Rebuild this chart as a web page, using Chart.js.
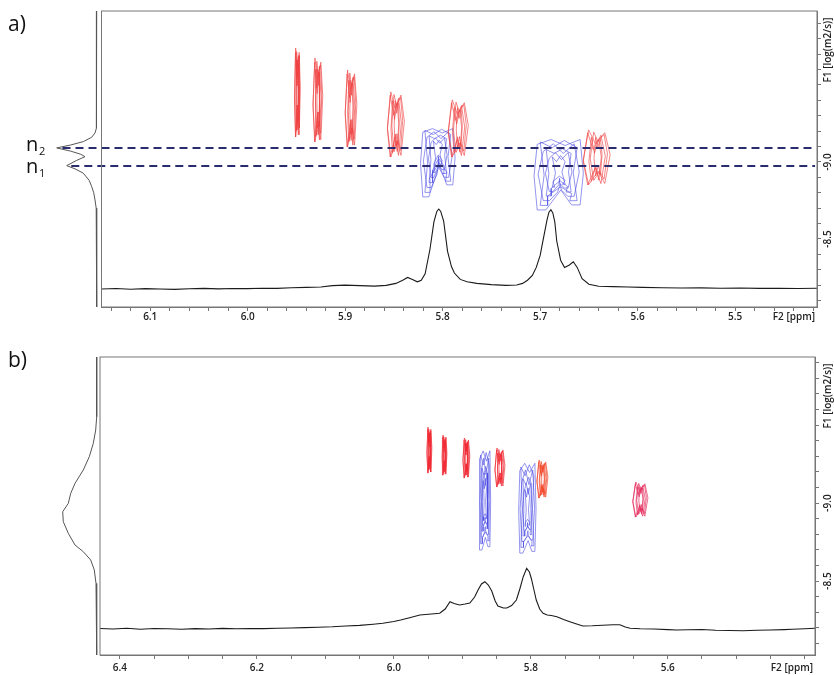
<!DOCTYPE html>
<html>
<head>
<meta charset="utf-8">
<script src="https://cdn.jsdelivr.net/npm/chart.js@4/dist/chart.umd.min.js"></script>
<style>
  body { margin: 0; background: #fff; }
  .panel { position: absolute; left: 0; }
</style>
</head>
<body>
<div class="panel" style="top:0"><canvas id="dosyA" width="834" height="330"></canvas></div>
<div class="panel" style="top:330px"><canvas id="dosyB" width="834" height="345"></canvas></div>
<script>
// ---------- panel a ----------
// 1H trace: [ppm, intensity]
const traceA = [
  [6.150, 0], [6.135, 0.6], [6.120, -0.3], [6.105, 0.5], [6.090, 0], [6.075, -0.5], [6.060, 0.4],
  [6.045, 0.8], [6.030, 0.2], [6.015, 0.6], [6.000, 0.5], [5.985, 1], [5.970, 0.8], [5.955, 1.5],
  [5.940, 2], [5.925, 2.5], [5.913, 4.2], [5.900, 4.8], [5.885, 4.2], [5.870, 3.6], [5.858, 4.5],
  [5.848, 7], [5.841, 11], [5.836, 14.5], [5.831, 12], [5.826, 9], [5.822, 11], [5.818, 19],
  [5.813, 50], [5.809, 84], [5.806, 97], [5.804, 100], [5.802, 97], [5.799, 85], [5.795, 47],
  [5.791, 28], [5.788, 20], [5.782, 12], [5.775, 9], [5.765, 7], [5.750, 5.5], [5.735, 4.5],
  [5.724, 5], [5.718, 7], [5.713, 11], [5.708, 17], [5.704, 27], [5.700, 42], [5.697, 61],
  [5.693, 86], [5.691, 96], [5.689, 99], [5.687, 95], [5.685, 84], [5.683, 60], [5.679, 36],
  [5.675, 27], [5.670, 30], [5.666, 34], [5.662, 27], [5.657, 13], [5.650, 6], [5.640, 3.5],
  [5.625, 3], [5.610, 2.5], [5.595, 2], [5.575, 1.6], [5.555, 1.2], [5.535, 1.4], [5.515, 0.9],
  [5.495, 1.2], [5.475, 0.8], [5.455, 1], [5.435, 0.6], [5.416, 1]
];
// F1 projection: [log D, intensity]
const projA = [
  [-9.98, 0], [-9.253, 0], [-9.220, 0.5], [-9.188, 1.7], [-9.160, 5], [-9.132, 13.4], [-9.110, 26],
  [-9.091, 40], [-9.070, 26], [-9.050, 16], [-9.034, 11.7], [-9.010, 20], [-8.976, 30], [-8.955, 21.7],
  [-8.927, 13.4], [-8.880, 7.5], [-8.840, 5], [-8.800, 3], [-8.753, 1.7], [-8.700, 0.5], [-8.669, 0],
  [-8.058, 0]
];
// diffusion levels n2, n1
const levelsA = [-9.091, -8.974];
const levelNames = ['2', '1'];
// red cross peaks: centre ppm, half width, log D top / bottom
const redPpmA = [5.949, 5.928, 5.894, 5.848, 5.784, 5.642];
const redHwA  = [0.003, 0.005, 0.006, 0.0087, 0.0103, 0.0138];
const redTopA = [-9.740, -9.675, -9.597, -9.455, -9.403, -9.208];
const redBotA = [-9.162, -9.130, -9.097, -9.032, -9.032, -8.851];
// blue cross peaks: centre ppm, half width, top, left leg end, right leg end, notch
const bluePpmA  = [5.805, 5.681];
const blueHwA   = [0.0154, 0.022];
const blueTopA  = [-9.205, -9.130];
const blueBotLA = [-8.773, -8.688];
const blueBotRA = [-8.851, -8.721];
const blueMidA  = [-8.980, -8.818];
const xLabelsA = [6.1, 6.0, 5.9, 5.8, 5.7, 5.6, 5.5];

// ---------- panel b ----------
const traceB = [
  [6.429, 0.5], [6.41, 0], [6.39, 0.8], [6.37, -0.2], [6.35, 0.5], [6.33, 0.2], [6.31, -0.3],
  [6.29, 0.4], [6.27, 0], [6.25, 0.6], [6.23, 0.2], [6.21, 0.5], [6.19, 0.4], [6.17, 0.8],
  [6.15, 1], [6.13, 1.4], [6.11, 1.8], [6.09, 2.2], [6.07, 3], [6.05, 3.6], [6.03, 4.8],
  [6.016, 5.7], [6.00, 7.5], [5.99, 9], [5.977, 11.3], [5.962, 14], [5.945, 15], [5.933, 15.7],
  [5.925, 20], [5.918, 27.3], [5.912, 25.5], [5.904, 24], [5.896, 25], [5.889, 26], [5.882, 32],
  [5.877, 39], [5.872, 45], [5.867, 47.3], [5.862, 44], [5.857, 38], [5.852, 28], [5.848, 23],
  [5.840, 21], [5.835, 21], [5.828, 23.5], [5.821, 29], [5.816, 40], [5.811, 52.3], [5.806, 60.7],
  [5.802, 57], [5.799, 50], [5.795, 38], [5.792, 29], [5.787, 20], [5.782, 15.7], [5.776, 14],
  [5.770, 13.5], [5.762, 12.3], [5.752, 9.5], [5.743, 7.3], [5.733, 5], [5.724, 3], [5.710, 3.2],
  [5.695, 3.8], [5.680, 4.2], [5.670, 4.3], [5.662, 2], [5.655, 0.7], [5.640, 0.2], [5.620, 0],
  [5.600, -0.6], [5.587, -1], [5.570, -0.8], [5.550, -0.5], [5.530, -1.2], [5.510, -1.5],
  [5.490, -1.7], [5.470, -1.2], [5.450, -1], [5.430, -0.6], [5.418, -0.3], [5.400, 0.3], [5.385, 0.7]
];
const projB = [
  [-9.936, 0], [-9.553, 0], [-9.468, 1], [-9.383, 3.4], [-9.297, 7.4], [-9.212, 13.4], [-9.126, 21.7],
  [-9.062, 26], [-8.998, 28.4], [-8.944, 34], [-8.880, 33.4], [-8.806, 28.4], [-8.731, 21.7],
  [-8.688, 13.4], [-8.635, 6], [-8.571, 2.4], [-8.485, 0.7], [-8.399, 0], [-8.026, 0]
];
const redPpmB = [5.948, 5.926, 5.894, 5.845, 5.783, 5.640];
const redHwB  = [0.0036, 0.0036, 0.005, 0.0073, 0.008, 0.011];
const redTopB = [-9.487, -9.436, -9.417, -9.353, -9.276, -9.135];
const redBotB = [-9.192, -9.179, -9.160, -9.103, -9.032, -8.910];
const bluePpmB  = [5.867, 5.805];
const blueHwB   = [0.0073, 0.011];
const blueTopB  = [-9.308, -9.231];
const blueBotLB = [-8.699, -8.679];
const blueBotRB = [-8.720, -8.690];
const blueMidB  = [-8.780, -8.760];
const xLabelsB = [6.4, 6.2, 6.0, 5.8, 5.6];
const yLabels = [-9.0, -8.5];

// nested contour levels
const RED_W  = [1, 0.82, 0.64, 0.46, 0.3];
const RED_H  = [1, 0.95, 0.88, 0.8, 0.7];
const RED_P  = [0.5, 0.35, 0.62, 0.28, 0.45];
const RED_DY = [0, 0.05, -0.04, 0.07, -0.03];
const RED_DX = [0, 0.18, -0.16, 0.12, -0.1];
const BLUE_W = [1, 0.86, 0.72, 0.58, 0.44, 0.3];
const BLUE_S = [1, 0.93, 0.85, 0.76, 0.66, 0.55];
const BLUE_T = [0, 0.06, 0.12, 0.2, 0.28, 0.36];
const BLUE_Q = [0.05, -0.06, 0.08, -0.04, 0.06, -0.05];

function line(pts, color, width, xId, yId, extra) {
  return Object.assign({
    data: pts.map(([x, y]) => ({ x, y })),
    borderColor: color, borderWidth: width, pointRadius: 0,
    xAxisID: xId, yAxisID: yId
  }, extra || {});
}

// spiky bow-tie rings (ppm axis runs right to left, so cx + w is the left side)
function bowtie(cx, hw, top, bot, color) {
  const mid = (top + bot) / 2, hh = (bot - top) / 2;
  return RED_W.map((fw, k) => {
    const w = hw * fw, h = hh * RED_H[k], m = mid + hh * RED_DY[k], p = RED_P[k];
    const c = cx + hw * RED_DX[k];
    return line([
      [c + 0.6 * w, m - h], [c + 0.1 * w, m - h * p], [c - 0.6 * w, m - h * 0.9], [c - w, m - h * 0.1],
      [c - 0.6 * w, m + h * 0.95], [c - 0.1 * w, m + h * p], [c + 0.6 * w, m + h], [c + w, m + h * 0.1],
      [c + 0.6 * w, m - h]
    ], color, 0.8, 'x', 'y');
  });
}

// ragged arch shaped rings with two legs
function arch(cx, hw, top, botL, botR, mid, color) {
  return BLUE_W.map((fw, k) => {
    const w = hw * fw, s = BLUE_S[k], leg = w * 0.4;
    const t = top + (mid - top) * BLUE_T[k], q = (mid - top) * BLUE_Q[k];
    const yl = t + (botL - t) * s, yr = t + (botR - t) * s, ym = t + (mid - t) * s;
    const wob = hw * BLUE_Q[k] * 3;
    return line([
      [cx + w, yl], [cx + w + wob, (t + yl) / 2], [cx + w, t + q], [cx + w * 0.35, t - q],
      [cx - w * 0.3, t + q * 1.5], [cx - w, t - q], [cx - w - wob, (t + yr) / 2], [cx - w, yr],
      [cx - w + leg, yr], [cx - w * 0.5 + wob, (yr + ym) / 2], [cx - w * 0.1, ym],
      [cx + w * 0.4 - wob, (yl + ym) / 2], [cx + w - leg, yl], [cx + w, yl]
    ], color, 0.8, 'x', 'y');
  });
}

function onGrid(step) {
  return s => { s.ticks = s.ticks.filter(t => Math.abs(t.value / step - Math.round(t.value / step)) < 1e-6); };
}

const panelDecor = {
  id: 'panelDecor',
  afterDraw(chart, args, o) {
    const { ctx, chartArea: a, scales } = chart;
    ctx.save();
    ctx.strokeStyle = '#777';
    ctx.lineWidth = 1;
    ctx.strokeRect(a.left, a.top, a.right - a.left, a.bottom - a.top);

    ctx.fillStyle = '#111';
    ctx.font = '21px "Open Sans"';
    ctx.textAlign = 'left';
    ctx.textBaseline = 'alphabetic';
    ctx.fillText(o.letter, 8, o.letterY);

    // n labels beside the projection peaks
    (o.levels || []).forEach((lv, i) => {
      const y = scales.y.getPixelForValue(lv);
      ctx.font = '20px "Open Sans"';
      ctx.fillText('n', 26, y + o.levelDy[i]);
      ctx.font = '11px "Open Sans"';
      ctx.fillText(o.levelNames[i], 39, y + o.levelDy[i] + 4);
    });

    ctx.fillStyle = '#222';
    ctx.font = '600 10px "Open Sans"';
    ctx.textAlign = 'right';
    ctx.textBaseline = 'middle';
    ctx.fillText('F2 [ppm]', a.right - 2, o.labelY);

    // rotated F1 labels on the right
    ctx.textAlign = 'center';
    const rot = (txt, x, y) => {
      ctx.save(); ctx.translate(x, y); ctx.rotate(-Math.PI / 2); ctx.fillText(txt, 0, 0); ctx.restore();
    };
    yLabels.forEach(v => rot(v.toFixed(1), 828, scales.y.getPixelForValue(v)));
    rot('F1 [log(m2/s)]', 828, a.top + 39);
    ctx.restore();
  }
};

function makePanel(id, c) {
  const ds = [];
  (c.levels || []).forEach((lv, i) => ds.push(line([[c.dashFrom[i], lv], [c.xMin + 0.002, lv]],
    '#2a2c70', 2, 'x', 'y', { borderDash: [8, 5], clip: false })));
  ds.push(line(c.trace, '#1b1b1b', 1.1, 'x', 'yInt'));
  ds.push(line(c.proj.map(([d, p]) => [p, d]), '#555', 1, 'xProj', 'y', { clip: false }));
  c.red.ppm.forEach((cx, i) => ds.push(...bowtie(cx, c.red.hw[i], c.red.top[i], c.red.bot[i], c.red.col[i])));
  c.blue.ppm.forEach((cx, i) => ds.push(...arch(cx, c.blue.hw[i], c.blue.top[i], c.blue.botL[i],
    c.blue.botR[i], c.blue.mid[i], 'rgba(75,75,228,0.75)')));

  const tickFont = { family: 'Open Sans', size: 10, weight: '600' };
  return new Chart(document.getElementById(id), {
    type: 'line',
    data: { datasets: ds },
    plugins: [panelDecor],
    options: {
      responsive: false,
      animation: false,
      events: [],
      layout: { padding: { left: c.padL, top: c.padT, right: 0, bottom: 0 } },
      elements: { line: { tension: 0, fill: false } },
      plugins: {
        legend: { display: false },
        tooltip: { enabled: false },
        panelDecor: c.decor
      },
      scales: {
        x: {
          type: 'linear', position: 'bottom', reverse: true, min: c.xMin, max: c.xMax,
          afterFit: s => { s.height = c.axisH; },
          afterBuildTicks: onGrid(c.xStep),
          grid: { drawOnChartArea: false, tickLength: 4, color: '#777' },
          border: { color: '#777' },
          ticks: {
            stepSize: c.xStep, includeBounds: false, autoSkip: false, maxRotation: 0, padding: c.tickPad,
            color: '#222', font: tickFont,
            callback: v => c.xLabels.includes(+v.toFixed(2)) ? v.toFixed(1) : ''
          }
        },
        y: {
          type: 'linear', position: 'right', reverse: true, min: c.yMin, max: c.yMax,
          afterFit: s => { s.width = c.axisW; },
          afterBuildTicks: onGrid(0.1),
          grid: { drawOnChartArea: false, tickLength: 4, color: '#777' },
          border: { color: '#777' },
          ticks: { stepSize: 0.1, includeBounds: false, autoSkip: false, callback: () => '' }
        },
        yInt: { type: 'linear', display: false, min: c.intMin, max: c.intMax },
        xProj: { type: 'linear', display: false, reverse: true, min: c.projMin, max: c.projMax }
      }
    }
  });
}

makePanel('dosyA', {
  trace: traceA, proj: projA, levels: levelsA, dashFrom: [6.19, 6.181],
  red: { ppm: redPpmA, hw: redHwA, top: redTopA, bot: redBotA,
         col: Array(6).fill('rgba(240,66,66,0.8)') },
  blue: { ppm: bluePpmA, hw: blueHwA, top: blueTopA, botL: blueBotLA, botR: blueBotRA, mid: blueMidA },
  xMin: 5.416, xMax: 6.15, xStep: 0.02, xLabels: xLabelsA,
  yMin: -9.98, yMax: -8.058, intMin: -22.5, intMax: 347.5,
  projMin: -720.3, projMax: -4.8,
  padL: 101.5, padT: 11, axisH: 23, axisW: 17, tickPad: 0,
  decor: { letter: 'a)', letterY: 31, levels: levelsA, levelNames, levelDy: [3, 7], labelY: 317 }
});

makePanel('dosyB', {
  trace: traceB, proj: projB,
  red: { ppm: redPpmB, hw: redHwB, top: redTopB, bot: redBotB,
         col: ['rgba(240,45,55,0.85)', 'rgba(240,45,55,0.85)', 'rgba(240,45,55,0.85)',
               'rgba(240,45,55,0.85)', 'rgba(242,70,40,0.85)', 'rgba(228,40,90,0.85)'] },
  blue: { ppm: bluePpmB, hw: blueHwB, top: blueTopB, botL: blueBotLB, botR: blueBotRB, mid: blueMidB },
  xMin: 5.385, xMax: 6.429, xStep: 0.05, xLabels: xLabelsB,
  yMin: -9.936, yMax: -8.026, intMin: -26, intMax: 272,
  projMin: -718.3, projMax: -3.3,
  padL: 100, padT: 27, axisH: 20, axisW: 19, tickPad: 3,
  decor: { letter: 'b)', letterY: 37, labelY: 338 }
});
</script>
</body>
</html>
